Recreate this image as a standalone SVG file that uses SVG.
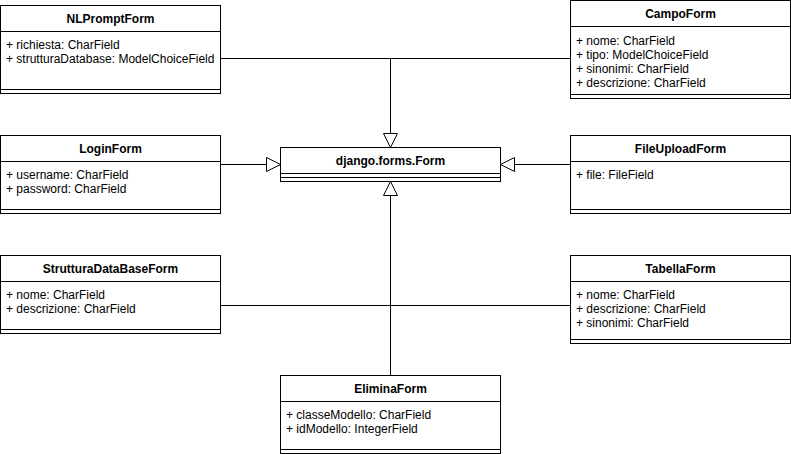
<svg xmlns="http://www.w3.org/2000/svg" width="791" height="454" viewBox="0 0 791 454">
<style>
.box{fill:#fff;stroke:#000;stroke-width:1}
.ln{stroke:#000;stroke-width:1;fill:none}
.t{font-family:"Liberation Sans",Arial,Helvetica,sans-serif;font-size:12px;font-weight:bold;text-anchor:middle;fill:#000}
.f{font-family:"Liberation Sans",Arial,Helvetica,sans-serif;font-size:12px;fill:#000}
</style>
<defs>
<marker id="tri" markerUnits="userSpaceOnUse" markerWidth="16" markerHeight="16" viewBox="-1 -1 16 16" refX="14" refY="7" orient="auto">
<path d="M0,0 L14,7 L0,14 Z" fill="#fff" stroke="#000" stroke-width="1"/>
</marker>
</defs>
<rect width="791" height="454" fill="#fff"/>
<g id="connectors">
<polyline class="ln" points="220.5,58.5 390.5,58.5 390.5,147.5" marker-end="url(#tri)"/>
<polyline class="ln" points="570.5,58.5 390.5,58.5"/>
<polyline class="ln" points="220.5,164.5 280.5,164.5" marker-end="url(#tri)"/>
<polyline class="ln" points="570.5,164.5 500.5,164.5" marker-end="url(#tri)"/>
<polyline class="ln" points="390.5,375.5 390.5,181.5" marker-end="url(#tri)"/>
<polyline class="ln" points="220.5,305.5 570.5,305.5"/>
</g>
<g id="NLPromptForm">
<rect class="box" x="0.5" y="5.5" width="220" height="88"/>
<line class="ln" x1="0.5" y1="31.5" x2="220.5" y2="31.5"/>
<line class="ln" x1="0.5" y1="89.5" x2="220.5" y2="89.5"/>
<text class="t" x="110.5" y="23">NLPromptForm</text>
<text class="f" x="6" y="49">+ richiesta: CharField</text>
<text class="f" x="6" y="63">+ strutturaDatabase: ModelChoiceField</text>
</g>
<g id="CampoForm">
<rect class="box" x="570.5" y="0.5" width="220" height="98"/>
<line class="ln" x1="570.5" y1="26.5" x2="790.5" y2="26.5"/>
<line class="ln" x1="570.5" y1="94.5" x2="790.5" y2="94.5"/>
<text class="t" x="680.5" y="18">CampoForm</text>
<text class="f" x="576" y="44.5">+ nome: CharField</text>
<text class="f" x="576" y="58.5">+ tipo: ModelChoiceField</text>
<text class="f" x="576" y="72.5">+ sinonimi: CharField</text>
<text class="f" x="576" y="86.5">+ descrizione: CharField</text>
</g>
<g id="LoginForm">
<rect class="box" x="0.5" y="135.5" width="220" height="78"/>
<line class="ln" x1="0.5" y1="161.5" x2="220.5" y2="161.5"/>
<line class="ln" x1="0.5" y1="209.5" x2="220.5" y2="209.5"/>
<text class="t" x="110.5" y="153">LoginForm</text>
<text class="f" x="6" y="179">+ username: CharField</text>
<text class="f" x="6" y="193">+ password: CharField</text>
</g>
<g id="DjangoForm">
<rect class="box" x="280.5" y="147.5" width="220" height="34"/>
<line class="ln" x1="280.5" y1="173.5" x2="500.5" y2="173.5"/>
<line class="ln" x1="280.5" y1="177.5" x2="500.5" y2="177.5"/>
<text class="t" x="390.5" y="165">django.forms.Form</text>
</g>
<g id="FileUploadForm">
<rect class="box" x="570.5" y="135.5" width="220" height="78"/>
<line class="ln" x1="570.5" y1="161.5" x2="790.5" y2="161.5"/>
<line class="ln" x1="570.5" y1="209.5" x2="790.5" y2="209.5"/>
<text class="t" x="680.5" y="153">FileUploadForm</text>
<text class="f" x="576" y="179">+ file: FileField</text>
</g>
<g id="StrutturaDataBaseForm">
<rect class="box" x="0.5" y="255.5" width="220" height="78"/>
<line class="ln" x1="0.5" y1="281.5" x2="220.5" y2="281.5"/>
<line class="ln" x1="0.5" y1="329.5" x2="220.5" y2="329.5"/>
<text class="t" x="110.5" y="273">StrutturaDataBaseForm</text>
<text class="f" x="6" y="299">+ nome: CharField</text>
<text class="f" x="6" y="313">+ descrizione: CharField</text>
</g>
<g id="TabellaForm">
<rect class="box" x="570.5" y="255.5" width="220" height="88"/>
<line class="ln" x1="570.5" y1="281.5" x2="790.5" y2="281.5"/>
<line class="ln" x1="570.5" y1="339.5" x2="790.5" y2="339.5"/>
<text class="t" x="680.5" y="273">TabellaForm</text>
<text class="f" x="576" y="299">+ nome: CharField</text>
<text class="f" x="576" y="313">+ descrizione: CharField</text>
<text class="f" x="576" y="327">+ sinonimi: CharField</text>
</g>
<g id="EliminaForm">
<rect class="box" x="280.5" y="375.5" width="220" height="78"/>
<line class="ln" x1="280.5" y1="401.5" x2="500.5" y2="401.5"/>
<line class="ln" x1="280.5" y1="449.5" x2="500.5" y2="449.5"/>
<text class="t" x="390.5" y="393">EliminaForm</text>
<text class="f" x="286" y="419">+ classeModello: CharField</text>
<text class="f" x="286" y="433">+ idModello: IntegerField</text>
</g>
</svg>
